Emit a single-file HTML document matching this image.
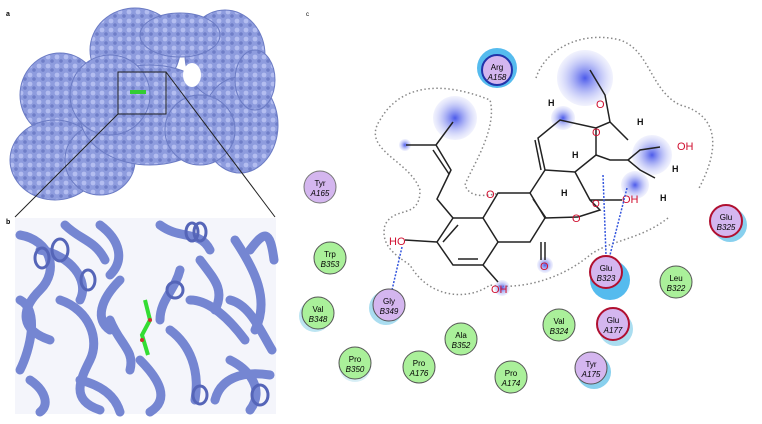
<!DOCTYPE html>
<html><head><meta charset="utf-8"><style>
html,body{margin:0;padding:0;background:#fff;}
svg{display:block;font-family:"Liberation Sans",sans-serif;}
</style></head><body>
<svg width="762" height="424" viewBox="0 0 762 424">
<defs>
<radialGradient id="bl" cx="50%" cy="50%" r="50%"><stop offset="0" stop-color="#3848e8" stop-opacity="0.9"/><stop offset="1" stop-color="#c8ccf8" stop-opacity="0.25"/></radialGradient>
<radialGradient id="sf" cx="40%" cy="35%" r="70%"><stop offset="0" stop-color="#a9b5ee"/><stop offset="1" stop-color="#7f8ed4"/></radialGradient>
<pattern id="tex" width="9" height="9" patternUnits="userSpaceOnUse"><rect width="9" height="9" fill="#8e9cde"/><circle cx="3" cy="3" r="2.4" fill="#b3bdf0"/><circle cx="7" cy="7" r="1.8" fill="#6f7ec8"/></pattern>
</defs>
<!-- panel a -->
<g>
<text x="6" y="16" font-size="7" font-weight="bold">a</text>
<g fill="url(#tex)" stroke="#6b7bc4" stroke-width="1">
<ellipse cx="60" cy="95" rx="40" ry="42"/>
<ellipse cx="55" cy="160" rx="45" ry="40"/>
<ellipse cx="100" cy="160" rx="35" ry="35"/>
<ellipse cx="135" cy="50" rx="45" ry="42"/>
<ellipse cx="150" cy="115" rx="70" ry="50"/>
<ellipse cx="225" cy="55" rx="40" ry="45"/>
<ellipse cx="240" cy="125" rx="38" ry="48"/>
<ellipse cx="200" cy="130" rx="35" ry="35"/>
<ellipse cx="110" cy="95" rx="40" ry="40"/>
<ellipse cx="180" cy="35" rx="40" ry="22"/>
<ellipse cx="255" cy="80" rx="20" ry="30"/>
</g>
<ellipse cx="192" cy="75" rx="9" ry="12" fill="#fff"/>
<rect x="118" y="72" width="48" height="42" fill="none" stroke="#222" stroke-width="1"/>
<rect x="130" y="90" width="16" height="4" fill="#3c3" />
<line x1="118" y1="114" x2="15" y2="217" stroke="#222" stroke-width="1"/>
<line x1="166" y1="72" x2="275" y2="217" stroke="#222" stroke-width="1"/>
</g>
<!-- panel b -->
<g>
<text x="6" y="224" font-size="7" font-weight="bold">b</text>
<rect x="15" y="218" width="261" height="196" fill="#f4f5fb"/>
<g fill="none" stroke="#7586d2" stroke-width="9" stroke-linecap="round">
<path d="M20 235 C50 240 60 270 40 290 S20 330 50 340"/>
<path d="M40 250 C70 255 90 280 80 300"/>
<path d="M60 300 C90 310 100 340 90 360 S70 400 100 410"/>
<path d="M100 225 C120 240 125 260 110 275"/>
<path d="M160 225 C180 240 200 230 210 250"/>
<path d="M190 300 C210 300 230 320 245 340"/>
<path d="M235 240 C255 270 270 300 255 330"/>
<path d="M230 360 C250 370 265 390 250 410"/>
<path d="M140 360 C160 380 170 400 150 412"/>
<path d="M30 380 C45 390 50 405 40 412"/>
<path d="M200 260 C215 280 225 290 215 310"/>
<path d="M110 320 C120 345 135 350 130 370"/>
<path d="M20 300 C40 310 30 350 20 370"/>
<path d="M65 225 C80 240 95 240 105 260"/>
<path d="M120 280 C100 300 95 320 110 330"/>
<path d="M170 330 C190 345 200 370 195 400"/>
<path d="M215 400 C220 380 240 370 270 375"/>
<path d="M250 250 C265 230 270 230 274 260"/>
<path d="M80 380 C100 385 115 395 120 412"/>
<path d="M180 270 C175 290 160 300 160 320"/>
<path d="M230 300 C250 305 260 330 272 350"/>
</g>
<g fill="none" stroke="#5565b8" stroke-width="3">
<ellipse cx="42" cy="258" rx="7" ry="10"/><ellipse cx="88" cy="280" rx="7" ry="10"/>
<ellipse cx="192" cy="232" rx="6" ry="9"/><ellipse cx="200" cy="232" rx="6" ry="9"/>
<ellipse cx="175" cy="290" rx="8" ry="8"/><ellipse cx="260" cy="395" rx="8" ry="10"/>
<ellipse cx="200" cy="395" rx="7" ry="9"/><ellipse cx="60" cy="250" rx="8" ry="11"/>
</g>
<g stroke="#3d3" stroke-width="4">
<path d="M145 300 L150 320 L142 335 L148 355" fill="none"/>
</g>
<circle cx="150" cy="320" r="2" fill="#c33"/><circle cx="142" cy="340" r="2" fill="#c33"/>
</g>
<!-- panel c -->
<text x="306" y="16" font-size="6">c</text>
<g fill="none" stroke="#888" stroke-width="1.5" stroke-dasharray="1.5,2.5">
<path d="M536 78 C545 50 580 30 620 40 C650 50 650 90 680 105 C720 115 720 150 698 190"/>
<path d="M668 218 C640 240 610 240 590 255 C560 280 520 290 490 285 C470 300 430 300 410 265 C395 255 380 245 385 225 C395 205 420 220 420 190 C410 160 360 150 380 120 C400 85 440 80 490 100 C498 130 470 170 465 185 C470 200 490 195 500 193"/>
</g>
<g>
<circle cx="455" cy="118" r="22" fill="url(#bl)"/>
<circle cx="405" cy="145" r="6" fill="url(#bl)"/>
<circle cx="585" cy="78" r="28" fill="url(#bl)"/>
<circle cx="563" cy="118" r="12" fill="url(#bl)"/>
<circle cx="652" cy="155" r="20" fill="url(#bl)"/>
<circle cx="635" cy="185" r="14" fill="url(#bl)"/>
<circle cx="545" cy="265" r="8" fill="url(#bl)"/>
<circle cx="502" cy="288" r="8" fill="url(#bl)"/>
</g>
<g stroke="#222" stroke-width="1.5" fill="none">
<path d="M453 218 L483 218 L498 242 L483 265 L453 265 L437 242 Z"/>
<path d="M458 225 L443 242 M458 259 L478 259"/>
<path d="M483 218 L498 193 L530 193 L545 218 L530 242 L498 242"/>
<path d="M533 199 L546 218"/>
<path d="M545 242 L545 260"/><path d="M541 242 L541 260"/>
<path d="M545 218 L578 217"/>
<path d="M437 242 L405 240"/><path d="M483 265 L498 282"/>
<path d="M453 218 L437 199 L451 170 L436 145 L406 145 M436 145 L453 122"/>
<path d="M449 174 L433 150"/>
<path d="M530 193 L545 170 L538 138 L560 120 L596 128 L610 122 L628 140"/>
<path d="M541 170 L535 140"/>
<path d="M545 170 L575 172 L596 155 L610 160 L628 160 L640 170 L655 178"/>
<path d="M575 172 L590 200 L600 210 L578 217 M590 200 L622 200"/>
<path d="M596 128 L596 155"/>
<path d="M610 122 L605 95 L590 70"/>
<path d="M628 160 L640 150 L660 147"/>
</g>
<g font-size="11" fill="#d01030">
<text x="486" y="198">O</text><text x="572" y="222">O</text><text x="540" y="270">O</text>
<text x="389" y="245">HO</text><text x="491" y="293">OH</text>
<text x="596" y="108">O</text><text x="592" y="136">O</text>
<text x="622" y="203">OH</text>
<text x="592" y="207" font-size="10">O</text><text x="677" y="150">OH</text>
</g>
<g font-size="9" font-weight="bold" fill="#111">
<text x="548" y="106">H</text><text x="637" y="125">H</text><text x="572" y="158">H</text>
<text x="561" y="196">H</text><text x="672" y="172">H</text><text x="660" y="201">H</text>
</g>
<g stroke="#3355dd" stroke-width="1.5" stroke-dasharray="2,1.5" fill="none">
<path d="M402 247 L392 290"/><path d="M603 175 L606 255"/><path d="M627 188 L610 255"/>
</g>
<g font-size="8" text-anchor="middle">
<circle cx="610" cy="280" r="20" fill="#55bbee"/><circle cx="730" cy="225" r="17" fill="#88d0ee"/>
<circle cx="497" cy="68" r="20" fill="#55bbee"/><circle cx="616" cy="329" r="17" fill="#aaddf0"/>
<circle cx="594" cy="372" r="17" fill="#88d0ee"/><circle cx="386" cy="308" r="17" fill="#aaddf0"/>
<circle cx="315" cy="316" r="16" fill="#bde5f2"/><circle cx="355" cy="366" r="16" fill="#d8eff6"/>
<g><circle cx="497" cy="70" r="15" fill="#d4b6ef" stroke="#2233aa" stroke-width="2"/><text x="497" y="70">Arg</text><text x="497" y="80" font-style="italic">A158</text></g>
<g><circle cx="320" cy="187" r="16" fill="#d4b6ef" stroke="#777"/><text x="320" y="186">Tyr</text><text x="320" y="196" font-style="italic">A165</text></g>
<g><circle cx="330" cy="258" r="16" fill="#aaf09a" stroke="#555"/><text x="330" y="257">Trp</text><text x="330" y="267" font-style="italic">B353</text></g>
<g><circle cx="318" cy="313" r="16" fill="#aaf09a" stroke="#555"/><text x="318" y="312">Val</text><text x="318" y="322" font-style="italic">B348</text></g>
<g><circle cx="389" cy="305" r="16" fill="#d4b6ef" stroke="#555"/><text x="389" y="304">Gly</text><text x="389" y="314" font-style="italic">B349</text></g>
<g><circle cx="355" cy="363" r="16" fill="#aaf09a" stroke="#555"/><text x="355" y="362">Pro</text><text x="355" y="372" font-style="italic">B350</text></g>
<g><circle cx="419" cy="367" r="16" fill="#aaf09a" stroke="#555"/><text x="419" y="366">Pro</text><text x="419" y="376" font-style="italic">A176</text></g>
<g><circle cx="461" cy="339" r="16" fill="#aaf09a" stroke="#555"/><text x="461" y="338">Ala</text><text x="461" y="348" font-style="italic">B352</text></g>
<g><circle cx="511" cy="377" r="16" fill="#aaf09a" stroke="#555"/><text x="511" y="376">Pro</text><text x="511" y="386" font-style="italic">A174</text></g>
<g><circle cx="559" cy="325" r="16" fill="#aaf09a" stroke="#555"/><text x="559" y="324">Val</text><text x="559" y="334" font-style="italic">B324</text></g>
<g><circle cx="613" cy="324" r="16" fill="#d4b6ef" stroke="#b01030" stroke-width="2"/><text x="613" y="323">Glu</text><text x="613" y="333" font-style="italic">A177</text></g>
<g><circle cx="591" cy="368" r="16" fill="#d4b6ef" stroke="#555"/><text x="591" y="367">Tyr</text><text x="591" y="377" font-style="italic">A175</text></g>
<g><circle cx="606" cy="272" r="16" fill="#d4b6ef" stroke="#b01030" stroke-width="2"/><text x="606" y="271">Glu</text><text x="606" y="281" font-style="italic">B323</text></g>
<g><circle cx="676" cy="282" r="16" fill="#aaf09a" stroke="#555"/><text x="676" y="281">Leu</text><text x="676" y="291" font-style="italic">B322</text></g>
<g><circle cx="726" cy="221" r="16" fill="#d4b6ef" stroke="#b01030" stroke-width="2"/><text x="726" y="220">Glu</text><text x="726" y="230" font-style="italic">B325</text></g>
</g>
</svg>
</body></html>
